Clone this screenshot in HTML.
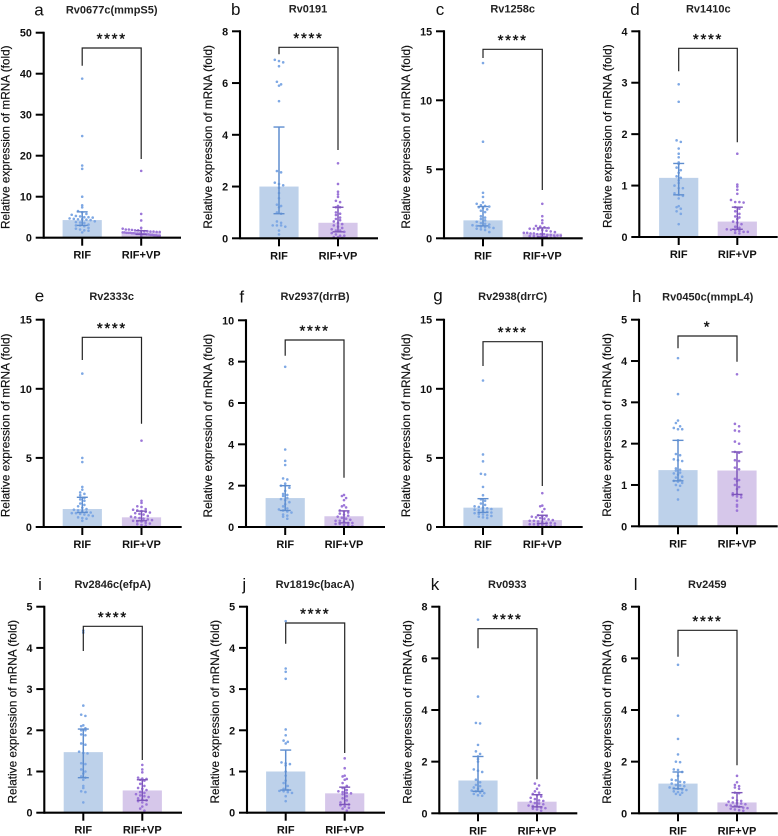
<!DOCTYPE html>
<html lang="en">
<head>
<meta charset="utf-8">
<title>Relative expression of mRNA by gene</title>
<style>
html,body{margin:0;padding:0;background:#fff;width:778px;height:836px;overflow:hidden}
svg{display:block;font-family:"Liberation Sans",Arial,sans-serif;filter:blur(0.3px)}
</style>
</head>
<body>
<svg id="fig" xmlns="http://www.w3.org/2000/svg" width="778" height="836" viewBox="0 0 778 836"></svg>
<script>
const panelLetters = ['a','b','c','d','e','f','g','h','i','j','k','l'];
const panelTitles = ['Rv0677c(mmpS5)','Rv0191','Rv1258c','Rv1410c','Rv2333c','Rv2937(drrB)','Rv2938(drrC)','Rv0450c(mmpL4)','Rv2846c(efpA)','Rv1819c(bacA)','Rv0933','Rv2459'];
const categories = ['RIF','RIF+VP'];
const significance = ['****','****','****','****','****','****','****','*','****','****','****','****'];
const yTickLabels = [
  [0,10,20,30,40,50],[0,2,4,6,8],[0,5,10,15],[0,1,2,3,4],
  [0,5,10,15],[0,2,4,6,8,10],[0,5,10,15],[0,1,2,3,4,5],
  [0,1,2,3,4,5],[0,1,2,3,4,5],[0,2,4,6,8],[0,2,4,6,8]
];
const rifMeans = [4.3,2.0,1.3,1.15,1.3,1.4,1.4,1.36,1.47,1.0,1.27,1.15];
const rifErrLow = [3.0,0.95,0.9,0.82,1.05,0.8,1.05,1.1,0.85,0.55,0.85,0.95];
const rifErrHigh = [6.3,4.3,2.3,1.43,2.15,2.0,2.05,2.08,2.03,1.52,2.2,1.6];
const vpMeans = [1.3,0.6,0.35,0.3,0.7,0.52,0.5,1.35,0.54,0.47,0.45,0.42];
const vpErrLow = [0.8,0.25,0.1,0.15,0.45,0.2,0.25,0.77,0.3,0.2,0.25,0.25];
const vpErrHigh = [1.7,1.2,0.75,0.58,1.15,0.78,0.85,1.8,0.8,0.62,0.72,0.8];
const rifPoints = [
  [38.8,24.8,17.6,16.8,10,7.9,7.4,6.5,6.2,5.8,5.6,5.3,5.2,5,5,4.9,4.7,4.6,4.5,4.5,4.4,4.3,4,3.8,3.7,3.6,3.2,3,3,2.8,2.4,2.2,2,1.8,1.7,1.3],
  [6.9,6.85,6.8,6.65,6.05,5.95,5.9,5.3,2.6,2.55,2.15,2.1,2.05,1.95,1.75,1.55,1.3,1.25,1.2,1.0,0.95,0.65,0.6,0.5,0.5,0.5,0.45,0.3,0.15],
  [12.7,7,3.3,3,2.6,2.5,2.4,2.35,2.3,2.25,2.2,2.1,2,1.9,1.6,1.5,1.4,1.3,1.2,1.1,1.05,1,0.95,0.9,0.85,0.8,0.8,0.75,0.7,0.65,0.6,0.45],
  [2.97,2.63,1.88,1.85,1.72,1.62,1.55,1.45,1.42,1.35,1.3,1.25,1.18,1.15,1.1,1.05,1,0.95,0.95,0.85,0.82,0.8,0.75,0.6,0.58,0.55,0.5,0.45,0.25],
  [11.1,5,4.7,2.9,2.7,2.5,2.4,2.3,2.1,2,1.9,1.7,1.6,1.5,1.4,1.3,1.25,1.2,1.15,1.1,1.05,1,1,0.95,0.9,0.85,0.8,0.7,0.65,0.6,0.45],
  [7.75,3.75,3.2,3,2.35,2.3,2.1,2,2,1.9,1.75,1.6,1.55,1.5,1.4,1.35,1.3,1.2,1.1,1,0.9,0.85,0.8,0.75,0.7,0.6,0.55,0.5,0.4],
  [10.6,5.25,4.75,3.85,3.8,2.9,2.3,2,1.9,1.7,1.6,1.5,1.45,1.4,1.35,1.3,1.25,1.2,1.15,1.1,1.05,1,0.95,0.9,0.85,0.8,0.75,0.7,0.65],
  [4.07,3.2,2.56,2.5,2.42,2.38,2.35,2.35,2.08,1.75,1.72,1.62,1.6,1.58,1.4,1.37,1.35,1.3,1.28,1.25,1.2,1.18,1.12,1.1,1.08,1.05,1,0.98,0.88,0.65],
  [4.42,4.37,2.6,2.38,2.35,2.12,2.1,2.05,2,2,1.9,1.88,1.68,1.65,1.48,1.45,1.44,1.2,1.18,1.05,1,0.95,0.88,0.85,0.8,0.65,0.6,0.52,0.5,0.25],
  [4.65,3.5,3.42,3.25,2.02,1.88,1.75,1.72,1.68,1.22,1.2,1.18,1.15,1.0,0.9,0.78,0.72,0.65,0.58,0.55,0.53,0.52,0.5,0.48,0.4,0.28],
  [7.5,4.52,3.5,3.48,2.65,2.4,2.3,2.2,2.1,2,1.7,1.65,1.6,1.3,1.2,1.1,1.05,1,0.95,0.9,0.88,0.85,0.8,0.78,0.75,0.7,0.68],
  [5.75,3.78,2.88,2.28,2,1.98,1.7,1.68,1.6,1.45,1.3,1.28,1.22,1.2,1.15,1.1,1.08,1.05,1,0.98,0.95,0.92,0.9,0.85,0.82,0.8,0.75,0.72]
];
const vpPoints = [
  [16.3,5.8,4.2,2.4,2.2,2,2,1.9,1.8,1.8,1.7,1.6,1.6,1.5,1.5,1.4,1.4,1.3,1.3,1.2,1.2,1.2,1.1,1.1,1,1,1,0.9,0.9,0.9,0.8,0.8,0.7,0.7,0.6,0.6,0.5,0.5,0.4],
  [2.9,2.1,1.8,1.7,1.6,1.45,1.4,1.25,1.2,1.2,1,0.95,0.9,0.8,0.75,0.7,0.65,0.6,0.55,0.5,0.45,0.4,0.35,0.3,0.3,0.25,0.2,0.15,0.1,0.1,0.05,0.05,0.02],
  [2.5,1.6,1.3,1.1,0.9,0.85,0.8,0.75,0.7,0.7,0.65,0.6,0.55,0.5,0.45,0.4,0.4,0.35,0.35,0.3,0.3,0.3,0.25,0.25,0.2,0.2,0.2,0.15,0.15,0.1,0.1,0.1,0.05,0.05],
  [1.62,1.02,0.98,0.92,0.84,0.72,0.68,0.68,0.67,0.58,0.55,0.5,0.45,0.4,0.38,0.35,0.3,0.28,0.25,0.2,0.18,0.15,0.14,0.13,0.12,0.1,0.1,0.08,0.07],
  [6.25,1.9,1.75,1.5,1.45,1.3,1.25,1.2,1.15,1.1,1.05,1,0.95,0.9,0.8,0.75,0.7,0.65,0.6,0.55,0.5,0.45,0.4,0.4,0.3,0.25,0.2,0.15,0.1],
  [1.55,1.5,1.4,1.3,1.05,1,0.95,0.8,0.75,0.7,0.65,0.6,0.55,0.5,0.45,0.4,0.35,0.3,0.3,0.25,0.2,0.2,0.15,0.15,0.1,0.1,0.05],
  [2.45,1.55,1.5,1.3,1.1,0.85,0.8,0.78,0.75,0.7,0.65,0.6,0.55,0.5,0.45,0.45,0.4,0.35,0.3,0.3,0.25,0.2,0.2,0.15,0.15,0.1,0.1,0.05],
  [3.68,2.48,2.42,2.32,2.3,2.05,2,1.8,1.78,1.6,1.58,1.42,1.38,1.15,1.12,1.1,1.0,0.95,0.9,0.8,0.78,0.76,0.75,0.72,0.7,0.62,0.52,0.48,0.38],
  [1.16,1.05,0.98,0.85,0.83,0.82,0.8,0.78,0.7,0.65,0.6,0.58,0.55,0.5,0.48,0.45,0.42,0.4,0.38,0.35,0.32,0.3,0.28,0.25,0.2,0.15,0.1,0.05],
  [1.32,1.08,0.9,0.88,0.82,0.8,0.72,0.65,0.6,0.55,0.52,0.5,0.48,0.47,0.45,0.4,0.35,0.3,0.25,0.2,0.2,0.18,0.15,0.12,0.1,0.05],
  [1.15,1.08,0.95,0.85,0.8,0.75,0.7,0.65,0.6,0.55,0.5,0.48,0.45,0.4,0.38,0.35,0.3,0.28,0.25,0.22,0.2,0.18,0.15,0.1],
  [1.45,1.2,1.1,1.05,1,0.95,0.8,0.78,0.6,0.5,0.48,0.45,0.42,0.4,0.38,0.35,0.32,0.3,0.28,0.25,0.22,0.2,0.18,0.15,0.12,0.1]
];

/* Panel frames (page layout, not data): axis x, plot top, baseline, axis right end,
   first/second category centre, title centre & baseline, letter x & baseline,
   bracket top and the lower ends of its two legs. */
const frames = [
  {ax:43.7,top:32.7,base:237.7,right:181,c1:82.2,c2:141.2,tx:111.7,ty:13.5,lx:39,ly:15.7,bt:48,bl:65.7,br:159},
  {ax:240,top:31.3,base:238.3,right:378,c1:279,c2:338,tx:308,ty:12.5,lx:235.7,ly:15,bt:47.3,bl:54.3,br:150},
  {ax:444,top:31.3,base:238.3,right:582.7,c1:483,c2:542.3,tx:512.7,ty:12.5,lx:440,ly:15,bt:49.3,bl:58,br:190},
  {ax:639.3,top:31.3,base:237,right:777.7,c1:678.7,c2:737.3,tx:708.3,ty:12.5,lx:635,ly:15,bt:48.3,bl:71.3,br:142.3},
  {ax:43.7,top:319.7,base:527,right:181.7,c1:82.3,c2:141.5,tx:111.7,ty:300,lx:39.5,ly:301.7,bt:337.3,bl:360,br:423.7},
  {ax:246,top:320.3,base:527,right:385,c1:285.2,c2:344,tx:315,ty:300,lx:241.7,ly:302.7,bt:340,bl:355.7,br:477.7},
  {ax:444,top:319.7,base:527,right:582.7,c1:483,c2:542.3,tx:512.7,ty:300,lx:438,ly:301,bt:341.7,bl:366,br:486},
  {ax:639,top:319.7,base:526.3,right:777.7,c1:678,c2:737,tx:707.7,ty:300.5,lx:636.7,ly:302,bt:336,bl:348.3,br:361.7},
  {ax:44.3,top:606.7,base:812.7,right:182,c1:83.3,c2:142.3,tx:112.7,ty:588,lx:40,ly:590,bt:626.3,bl:651,br:760},
  {ax:247,top:606.7,base:812.7,right:385,c1:285.7,c2:344.7,tx:315,ty:588,lx:244.3,ly:590,bt:623,bl:643.7,br:753},
  {ax:439.3,top:606.7,base:813.3,right:577.3,c1:478,c2:537,tx:507.3,ty:588,lx:435,ly:590,bt:628.7,bl:648.3,br:779.3},
  {ax:639,top:606.7,base:813.3,right:777.7,c1:678,c2:737,tx:707.3,ty:588,lx:635.7,ly:590,bt:630.3,bl:656.7,br:765.3}
];

const svgNS = 'http://www.w3.org/2000/svg';
const root = document.getElementById('fig');
const groupStyles = [
  {bar:'#bdd1ea',dot:'#7ea8e4',err:'#5f8ecf'},
  {bar:'#d6c7ea',dot:'#9c76d8',err:'#7d56ba'}
];

function make(parent, tag, attrs, text) {
  const node = document.createElementNS(svgNS, tag);
  for (const k in attrs) node.setAttribute(k, attrs[k]);
  if (text !== undefined) node.textContent = text;
  parent.appendChild(node);
  return node;
}

/* Prism-style swarm: values sharing a vertical bin spread outward from the centre. */
function swarm(values, yScale) {
  const bins = new Map();
  values.forEach(v => {
    const key = Math.round(yScale(v) / 3.6);
    if (!bins.has(key)) bins.set(key, []);
    bins.get(key).push(v);
  });
  const placed = [];
  bins.forEach(list => {
    const n = list.length;
    const gap = n > 1 ? Math.min(4.2, 37 / (n - 1)) : 0;
    list.forEach((v, i) => {
      placed.push({v: v, dx: (i - (n - 1) / 2) * gap});
    });
  });
  return placed;
}

function drawGroup(g, f, yScale, cx, idx, mean, low, high, points, key) {
  const st = groupStyles[idx];
  const bar = make(g, 'rect', {x: cx - 19.6, y: yScale(mean), width: 39.2, height: yScale(0) - yScale(mean), fill: st.bar});
  
  

  swarm(points, yScale).forEach(p => {
    const dot = make(g, 'circle', {cx: cx + p.dx, cy: yScale(p.v), r: 1.3, fill: st.dot});
    
    
  });

  const errStem = make(g, 'line', {x1: cx, x2: cx, y1: yScale(low), y2: yScale(high), stroke: st.err, 'stroke-width': 1.5});
  
  
  const capHigh = make(g, 'line', {x1: cx - 5.5, x2: cx + 5.5, y1: yScale(high), y2: yScale(high), stroke: st.err, 'stroke-width': 1.4});
  
  
  const capLow = make(g, 'line', {x1: cx - 5.5, x2: cx + 5.5, y1: yScale(low), y2: yScale(low), stroke: st.err, 'stroke-width': 1.4});
  
  
}

panelLetters.forEach((letter, i) => {
  const f = frames[i];
  const ticks = yTickLabels[i];
  const yMax = ticks[ticks.length - 1];
  const yScale = v => f.base - (v / yMax) * (f.base - f.top);

  const g = make(root, 'g', {});
  
  

  const letterEl = make(g, 'text', {x: f.lx, y: f.ly, 'text-anchor': 'middle', 'font-size': 17, fill: '#111'}, letter);
  
  

  const titleEl = make(g, 'text', {x: f.tx, y: f.ty, 'text-anchor': 'middle', 'font-size': 11, 'font-weight': 'bold', fill: '#222'}, panelTitles[i]);
  
  

  drawGroup(g, f, yScale, f.c1, 0, rifMeans[i], rifErrLow[i], rifErrHigh[i], rifPoints[i], 'rif');
  drawGroup(g, f, yScale, f.c2, 1, vpMeans[i], vpErrLow[i], vpErrHigh[i], vpPoints[i], 'rif-vp');

  const yAxis = make(g, 'line', {x1: f.ax, x2: f.ax, y1: f.top - 1, y2: f.base + 1, stroke: '#000', 'stroke-width': 2.1});
  
  
  const xAxis = make(g, 'line', {x1: f.ax, x2: f.right, y1: f.base, y2: f.base, stroke: '#000', 'stroke-width': 2.1});
  
  

  ticks.forEach(t => {
    const tick = make(g, 'line', {x1: f.ax - 8, x2: f.ax, y1: yScale(t), y2: yScale(t), stroke: '#000', 'stroke-width': 2});
    
    
    const tickLabel = make(g, 'text', {x: f.ax - 11.8, y: yScale(t) + 4, 'text-anchor': 'end', 'font-size': 10.8, 'font-weight': 'bold', fill: '#111'}, t);
    
    
  });

  [f.c1, f.c2].forEach((cx, c) => {
    const tick = make(g, 'line', {x1: cx, x2: cx, y1: f.base, y2: f.base + 8, stroke: '#000', 'stroke-width': 2});
    
    
    const label = make(g, 'text', {x: cx, y: f.base + 21, 'text-anchor': 'middle', 'font-size': 11, 'font-weight': 'bold', fill: '#111'}, categories[c]);
    
    
  });

  const wide = String(yMax).length > 1;
  const titleX = f.ax - (wide ? 38 : 32);
  const titleY = (f.top + f.base) / 2 + 2;
  const yTitle = make(g, 'text', {x: titleX, y: titleY, 'text-anchor': 'middle', 'dominant-baseline': 'central', 'font-size': 11.8, fill: '#111', stroke: '#111', 'stroke-width': 0.2, transform: 'rotate(-90 ' + titleX + ' ' + titleY + ')'}, 'Relative expression of mRNA (fold)');
  
  

  const bracket = make(g, 'polyline', {points: f.c1 + ',' + f.bl + ' ' + f.c1 + ',' + f.bt + ' ' + f.c2 + ',' + f.bt + ' ' + f.c2 + ',' + f.br, fill: 'none', stroke: '#222', 'stroke-width': 1.2});
  
  

  const stars = make(g, 'text', {x: (f.c1 + f.c2) / 2, y: f.bt - 4.5, 'text-anchor': 'middle', 'font-size': 15, 'letter-spacing': 1.7, fill: '#111', stroke: '#111', 'stroke-width': 0.35}, significance[i]);
  
  
});
</script>
</body>
</html>
